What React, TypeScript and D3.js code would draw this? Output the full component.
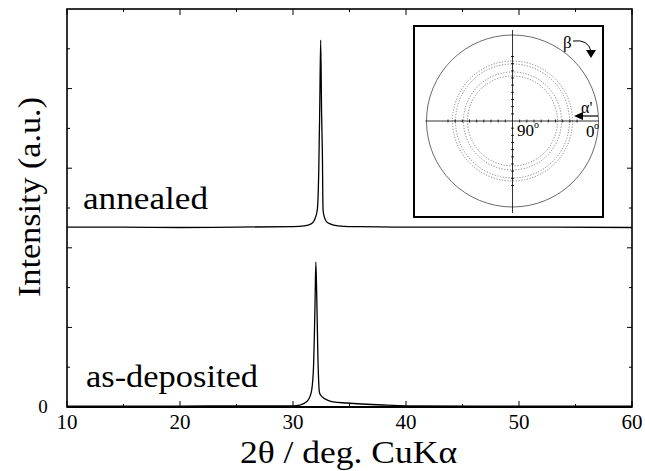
import React, { useEffect, useRef } from "react";
import * as d3 from "d3";

const xTicks = [10, 20, 30, 40, 50, 60];
const xMinorTicks = [15, 25, 35, 45, 55];
const yMajorTicks = [2, 4, 6, 8];
const yMinorTicks = [1, 3, 5, 7, 9];
const yTickLabels = ["0"];

const annealedTheta = [10, 15, 20, 25, 30, 31.0, 31.6, 31.9, 32.15, 32.28, 32.37, 32.45, 32.53, 32.6, 32.66, 32.8, 32.98, 33.3, 33.6, 34.5, 36, 40, 50, 60];
const annealedI = [4.52, 4.52, 4.51, 4.52, 4.53, 4.55, 4.6, 4.7, 4.95, 5.95, 7.6, 9.22, 7.4, 6.38, 4.95, 4.75, 4.65, 4.6, 4.57, 4.54, 4.53, 4.52, 4.52, 4.51];

const depTheta = [10, 15, 20, 25, 30, 30.6, 31.2, 31.6, 31.8, 31.95, 32.02, 32.1, 32.2, 32.35, 32.6, 33.0, 33.54, 34.75, 37.96, 40, 50, 60];
const depI = [0.02, 0.02, 0.02, 0.03, 0.03, 0.05, 0.13, 0.35, 0.9, 2.6, 3.64, 2.8, 1.3, 0.35, 0.25, 0.18, 0.13, 0.1, 0.05, 0.03, 0.02, 0.02];

const seriesLabels = ["annealed", "as-deposited"];
const ringRadii = [60, 57, 49, 45];
const alphaTicks = [22.5, 30, 37.5, 45, 52.5, 60, 67.5, 75, 82.5];

const W = 645, H = 471;
const L = 67, R = 632, T = 9, B = 407;
const F = "Liberation Serif";

export default function App() {
  const ref = useRef<SVGSVGElement | null>(null);
  useEffect(() => {
    if (ref.current) {
      d3.select(ref.current).selectAll("text").style("font-family", "'Liberation Serif', serif", "important");
    }
  }, []);

  const x = d3.scaleLinear().domain([10, 60]).range([L, R]);
  const y = d3.scaleLinear().domain([0, 10]).range([B, T]);
  const mk = d3.line<[number, number]>().x((d) => x(d[0])).y((d) => y(d[1])).curve(d3.curveMonotoneX);
  const annPath = mk(annealedTheta.map((t, i) => [t, annealedI[i]] as [number, number]));
  const depPath = mk(depTheta.map((t, i) => [t, depI[i]] as [number, number]));

  const cx = 512.5, cy = 121, Rout = 86;
  const r = d3.scaleLinear().domain([90, 0]).range([0, Rout]);

  return (
    <div style={{ position: "absolute", left: 0, top: 0, width: W, height: H }}>
    <svg ref={ref} width={W} height={H}>
      <rect x={0} y={0} width={W} height={H} fill="#fff" />
      <path d={annPath ?? ""} fill="none" stroke="#000" strokeWidth={1.3} />
      <path d={depPath ?? ""} fill="none" stroke="#000" strokeWidth={1.3} />

      <rect x={L} y={T} width={R - L} height={B - T} fill="none" stroke="#000" strokeWidth={1.6} />
      <line x1={L} x2={R} y1={B} y2={B} stroke="#000" strokeWidth={2.2} />

      {xTicks.map((t) => (
        <g key={"xt" + t}>
          <line x1={x(t)} x2={x(t)} y1={B} y2={B - 6} stroke="#000" strokeWidth={1} />
          <line x1={x(t)} x2={x(t)} y1={T} y2={T + 6} stroke="#000" strokeWidth={1} />
          <text x={x(t)} y={429} textAnchor="middle" fontSize={21} fontFamily={F}>{t}</text>
        </g>
      ))}
      {xMinorTicks.map((t) => (
        <g key={"xm" + t}>
          <line x1={x(t)} x2={x(t)} y1={B} y2={B - 3} stroke="#000" strokeWidth={1} />
          <line x1={x(t)} x2={x(t)} y1={T} y2={T + 3} stroke="#000" strokeWidth={1} />
        </g>
      ))}
      {yMajorTicks.map((t) => (
        <g key={"ym" + t}>
          <line x1={L} x2={L + 5} y1={y(t)} y2={y(t)} stroke="#000" strokeWidth={1} />
          <line x1={R} x2={R - 5} y1={y(t)} y2={y(t)} stroke="#000" strokeWidth={1} />
        </g>
      ))}
      {yMinorTicks.map((t) => (
        <g key={"yn" + t}>
          <line x1={L} x2={L + 3} y1={y(t)} y2={y(t)} stroke="#000" strokeWidth={1} />
          <line x1={R} x2={R - 3} y1={y(t)} y2={y(t)} stroke="#000" strokeWidth={1} />
        </g>
      ))}
      <text x={43} y={y(0) + 6} textAnchor="middle" fontSize={19} fontFamily={F}>{yTickLabels[0]}</text>

      <text x={240} y={463} fontSize={32} fontFamily={F} textLength={217} lengthAdjust="spacingAndGlyphs">2θ / deg. CuKα</text>
      <text transform={`translate(40,297) rotate(-90)`} fontSize={32} fontFamily={F} textLength={200} lengthAdjust="spacingAndGlyphs">Intensity (a.u.)</text>

      <text x={83} y={209} fontSize={32} fontFamily={F} textLength={125} lengthAdjust="spacingAndGlyphs">{seriesLabels[0]}</text>
      <text x={86} y={387} fontSize={32} fontFamily={F} textLength={172} lengthAdjust="spacingAndGlyphs">{seriesLabels[1]}</text>

      <rect x={414} y={26} width={189} height={191} fill="#fff" stroke="#000" strokeWidth={2} />
      <circle cx={cx} cy={cy} r={Rout} fill="none" stroke="#444" strokeWidth={0.8} />
      {ringRadii.map((rr, i) => (
        <circle key={"ring" + i} cx={cx} cy={cy} r={rr} fill="none" stroke="#777" strokeWidth={0.9} strokeDasharray="1.2,1.6" />
      ))}
      <line x1={cx - Rout - 1} x2={cx + Rout} y1={cy} y2={cy} stroke="#000" strokeWidth={0.8} />
      <line x1={cx} x2={cx} y1={cy - 91} y2={cy + 92} stroke="#000" strokeWidth={0.8} />
      {alphaTicks.map((a) => (
        <g key={"at" + a}>
          <line x1={cx + r(a)} x2={cx + r(a)} y1={cy - 1.5} y2={cy + 1.5} stroke="#000" strokeWidth={0.8} />
          <line x1={cx - r(a)} x2={cx - r(a)} y1={cy - 1.5} y2={cy + 1.5} stroke="#000" strokeWidth={0.8} />
          <line y1={cy + r(a)} y2={cy + r(a)} x1={cx - 1.5} x2={cx + 1.5} stroke="#000" strokeWidth={0.8} />
          <line y1={cy - r(a)} y2={cy - r(a)} x1={cx - 1.5} x2={cx + 1.5} stroke="#000" strokeWidth={0.8} />
        </g>
      ))}
      <text x={517} y={136} fontSize={17} fontFamily={F}>90</text>
      <text x={534} y={128} fontSize={10} fontFamily={F}>o</text>
      <text x={586} y={137} fontSize={17} fontFamily={F}>0</text>
      <text x={594} y={129} fontSize={10} fontFamily={F}>o</text>
      <text x={563} y={48} fontSize={17} fontFamily={F}>β</text>
      <path d="M 573 41 Q 588 39 591 51" fill="none" stroke="#000" strokeWidth={1} />
      <path d="M 586 50 L 596 50 L 591 58 Z" fill="#000" />
      <text x={581} y={113} fontSize={16} fontFamily={F}>α'</text>
      <line x1={598} x2={580} y1={116} y2={116} stroke="#000" strokeWidth={1.2} />
      <path d="M 574 116 L 583 112 L 583 120 Z" fill="#000" />
    </svg>
    </div>
  );
}
